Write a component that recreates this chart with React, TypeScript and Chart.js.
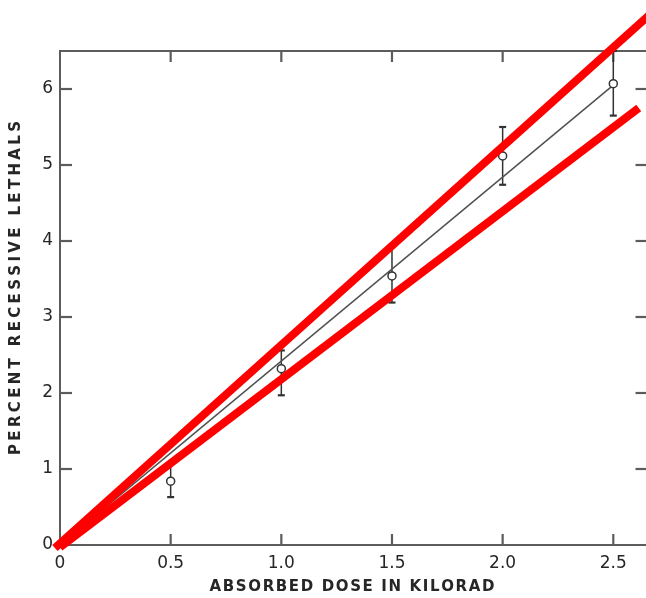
import React, { useEffect, useRef } from "react";
import { Chart, registerables } from "chart.js";

Chart.register(...registerables);

// ---- data ----
const doses = [0.5, 1.0, 1.5, 2.0, 2.5];
const lethals = [0.84, 2.32, 3.54, 5.12, 6.07];
const errLow = [0.63, 1.97, 3.19, 4.74, 5.65];
const errHigh = [1.08, 2.56, 3.92, 5.5, 6.5];

const fitLineX = [0, 2.5];
const fitLineY = [0, 6.05];

const upperRedX = [-0.023, 2.75];
const upperRedY = [-0.04, 7.2];
const lowerRedX = [0.0, 2.615];
const lowerRedY = [-0.03, 5.75];

const xTickValues = [0, 0.5, 1.0, 1.5, 2.0, 2.5];
const xTickLabels = ["0", "0.5", "1.0", "1.5", "2.0", "2.5"];
const yTickValues = [0, 1, 2, 3, 4, 5, 6];
const yTickLabels = ["0", "1", "2", "3", "4", "5", "6"];

const xTitle = "ABSORBED DOSE IN KILORAD";
const yTitle = "PERCENT RECESSIVE LETHALS";

const X_MIN = 0;
const X_MAX = 2.65;
const Y_MIN = 0;
const Y_MAX = 6.5;

const INK = "#262626";
const FRAME = "#5c5c5c";
const RED = "#ff0000";

function toPts(xs: number[], ys: number[]) {
  return xs.map((x, i) => ({ x, y: ys[i] }));
}

function drawSpaced(ctx: CanvasRenderingContext2D, text: string, cx: number, cy: number, target: number) {
  const chars = text.split("");
  const widths = chars.map((c) => ctx.measureText(c).width);
  const sum = widths.reduce((a, b) => a + b, 0);
  const gap = chars.length > 1 ? (target - sum) / (chars.length - 1) : 0;
  let x = cx - target / 2;
  ctx.textAlign = "left";
  ctx.textBaseline = "middle";
  chars.forEach((c, i) => {
    ctx.fillText(c, x, cy);
    x += widths[i] + gap;
  });
}

const decorPlugin = {
  id: "decor",
  beforeDatasetsDraw(chart: any) {
    const { ctx, chartArea: a, scales } = chart;
    const xs = scales.x;
    const ys = scales.y;
    ctx.save();
    ctx.strokeStyle = FRAME;
    ctx.lineWidth = 2;
    ctx.beginPath();
    ctx.moveTo(a.right + 4, a.top);
    ctx.lineTo(a.left, a.top);
    ctx.lineTo(a.left, a.bottom);
    ctx.lineTo(a.right + 4, a.bottom);
    ctx.stroke();

    const seg = (x1: number, y1: number, x2: number, y2: number) => {
      ctx.beginPath();
      ctx.moveTo(x1, y1);
      ctx.lineTo(x2, y2);
      ctx.stroke();
    };
    ctx.lineWidth = 2.2;
    yTickValues.forEach((v) => {
      if (v === 0) return;
      const py = ys.getPixelForValue(v);
      seg(a.left, py, a.left + 12, py);
      seg(a.right, py, a.right - 11, py);
    });
    xTickValues.forEach((v) => {
      if (v === 0) return;
      const px = xs.getPixelForValue(v);
      seg(px, a.bottom, px, a.bottom - 11);
      seg(px, a.top, px, a.top + 11);
    });

    // error bars
    ctx.strokeStyle = "#333333";
    doses.forEach((d, i) => {
      const px = xs.getPixelForValue(d);
      const lo = ys.getPixelForValue(errLow[i]);
      const hi = ys.getPixelForValue(errHigh[i]);
      ctx.lineWidth = 1.5;
      seg(px, lo, px, hi);
      ctx.lineWidth = 2.2;
      seg(px - 3.5, lo, px + 3.5, lo);
      seg(px - 3.5, hi, px + 3.5, hi);
    });
    ctx.restore();
  },
  afterDraw(chart: any) {
    const { ctx } = chart;
    ctx.save();
    ctx.fillStyle = INK;
    ctx.font = "bold 15px 'DejaVu Sans'";
    drawSpaced(ctx, xTitle, 352, 587, 285);
    ctx.translate(16, 288);
    ctx.rotate(-Math.PI / 2);
    drawSpaced(ctx, yTitle, 0, 0, 334);
    ctx.restore();
  },
};

export default function App() {
  const ref = useRef<HTMLCanvasElement | null>(null);

  useEffect(() => {
    if (!ref.current) return;
    const chart = new Chart(ref.current, {
      type: "scatter",
      data: {
        datasets: [
          {
            type: "line",
            data: toPts(upperRedX, upperRedY),
            borderColor: RED,
            borderWidth: 8,
            pointRadius: 0,
            fill: false,
            clip: false,
            borderCapStyle: "butt",
          } as any,
          {
            type: "line",
            data: toPts(lowerRedX, lowerRedY),
            borderColor: RED,
            borderWidth: 8,
            pointRadius: 0,
            fill: false,
            clip: false,
            borderCapStyle: "butt",
          } as any,
          {
            data: toPts(doses, lethals),
            showLine: false,
            pointRadius: 4,
            pointBackgroundColor: "#ffffff",
            pointBorderColor: "#333333",
            pointBorderWidth: 1.5,
            clip: false,
          } as any,
          {
            type: "line",
            data: toPts(fitLineX, fitLineY),
            borderColor: "#505050",
            borderWidth: 1.5,
            pointRadius: 0,
            fill: false,
          } as any,
        ],
      },
      options: {
        animation: false,
        responsive: false,
        devicePixelRatio: 1,
        layout: { padding: { top: 51, left: 0, right: 0, bottom: 0 } },
        plugins: { legend: { display: false }, tooltip: { enabled: false }, title: { display: false } },
        scales: {
          x: {
            type: "linear",
            min: X_MIN,
            max: X_MAX,
            grid: { display: false, drawTicks: false },
            border: { display: false },
            afterBuildTicks: (s: any) => {
              s.ticks = xTickValues.map((v) => ({ value: v }));
            },
            afterFit: (s: any) => {
              s.height = 53;
              s.paddingLeft = 0;
              s.paddingRight = 0;
            },
            ticks: {
              padding: 8,
              color: INK,
              font: { family: "'DejaVu Sans'", size: 17 },
              maxRotation: 0,
              autoSkip: false,
              callback: (v: any) => {
                const i = xTickValues.indexOf(Number(v));
                return i >= 0 ? xTickLabels[i] : "";
              },
            },
          },
          y: {
            type: "linear",
            min: Y_MIN,
            max: Y_MAX,
            grid: { display: false, drawTicks: false },
            border: { display: false },
            afterBuildTicks: (s: any) => {
              s.ticks = yTickValues.map((v) => ({ value: v }));
            },
            afterFit: (s: any) => {
              s.width = 60;
              s.paddingTop = 0;
              s.paddingBottom = 0;
            },
            ticks: {
              padding: 7,
              color: INK,
              font: { family: "'DejaVu Sans'", size: 17 },
              autoSkip: false,
              callback: (v: any) => {
                const i = yTickValues.indexOf(Number(v));
                return i >= 0 ? yTickLabels[i] : "";
              },
            },
          },
        },
      } as any,
      plugins: [decorPlugin],
    });
    return () => chart.destroy();
  }, []);

  return (
    <div
      style={{
        position: "fixed",
        left: 0,
        top: 0,
        width: 646,
        height: 598,
        overflow: "hidden",
        background: "#ffffff",
      }}
    >
      <canvas ref={ref} width={652} height={598} style={{ display: "block" }} />
    </div>
  );
}
